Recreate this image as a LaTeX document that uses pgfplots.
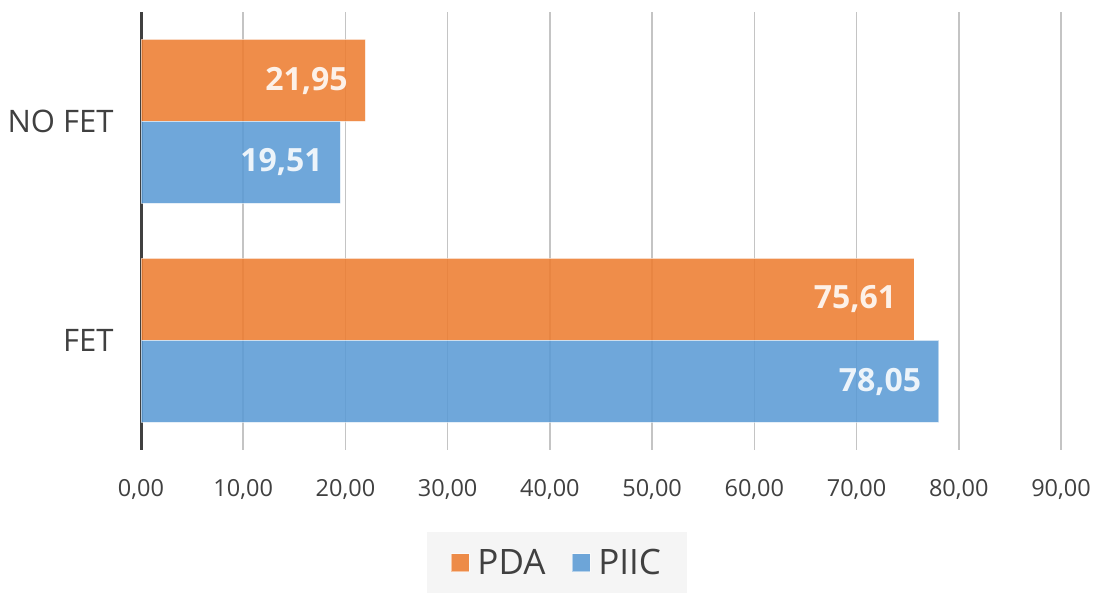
\documentclass[border=0pt]{standalone}
\usepackage{pgfplots}
\pgfplotsset{compat=1.18}
\usepackage{fontspec}
\setmainfont{Open Sans}
\definecolor{txt}{HTML}{404040}
\definecolor{pda}{HTML}{ED7D31}
\definecolor{piic}{HTML}{5B9BD5}
\definecolor{gridc}{HTML}{C4C4C4}
\definecolor{legbg}{HTML}{F5F5F5}
\begin{document}
\begin{tikzpicture}
\path[use as bounding box] (0,0) rectangle (1099pt,593pt);
\begin{axis}[
  at={(141pt,143pt)}, anchor=south west,
  scale only axis, width=920pt, height=438pt,
  xbar, bar width=82pt,
  xmin=0, xmax=90, ymin=-0.5, ymax=1.5,
  xtick={0,10,...,90},
  ytick={0,1}, yticklabels={FET,NO FET},
  axis x line*=bottom, axis y line*=left,
  x axis line style={draw=none},
  y axis line style={draw=txt, line width=3pt, -},
  major tick length=0pt,
  xmajorgrids, major grid style={gridc, line width=1.6pt},
  /pgf/number format/assume math mode=true,
  /pgf/number format/.cd, fixed, fixed zerofill, precision=2, use comma, /pgfplots/.cd,
  xticklabel style={font=\fontsize{23.5}{26}\selectfont, text=txt, yshift=-26pt},
  yticklabel style={font=\fontsize{31}{34}\selectfont, text=txt, xshift=-24pt},
  nodes near coords={\pgfmathprintnumber[fixed, fixed zerofill, precision=2, use comma, assume math mode=true]{\pgfplotspointmeta}},
  nodes near coords style={anchor=east, xshift=-14pt, text=white, font=\fontsize{32}{34}\selectfont\bfseries},
  legend columns=2,
  legend style={at={(0.452,-0.187)}, anchor=north, draw=none, fill=legbg,
    font=\fontsize{35}{38}\selectfont, text=txt, inner xsep=24pt, inner ysep=15pt,
    /tikz/every odd column/.append style={column sep=6pt},
    /tikz/every even column/.append style={column sep=24pt}},
  legend image code/.code={\fill[#1] (0pt,-9pt) rectangle (18pt,9pt);},
]
\addplot[bar shift=41pt, fill=pda, fill opacity=0.88, draw=white, draw opacity=0.5, line width=0.8pt] coordinates {(75.61,0) (21.95,1)};
\addplot[bar shift=-41pt, fill=piic, fill opacity=0.88, draw=white, draw opacity=0.5, line width=0.8pt] coordinates {(78.05,0) (19.51,1)};
\legend{PDA,PIIC}
\end{axis}
\end{tikzpicture}
\end{document}
